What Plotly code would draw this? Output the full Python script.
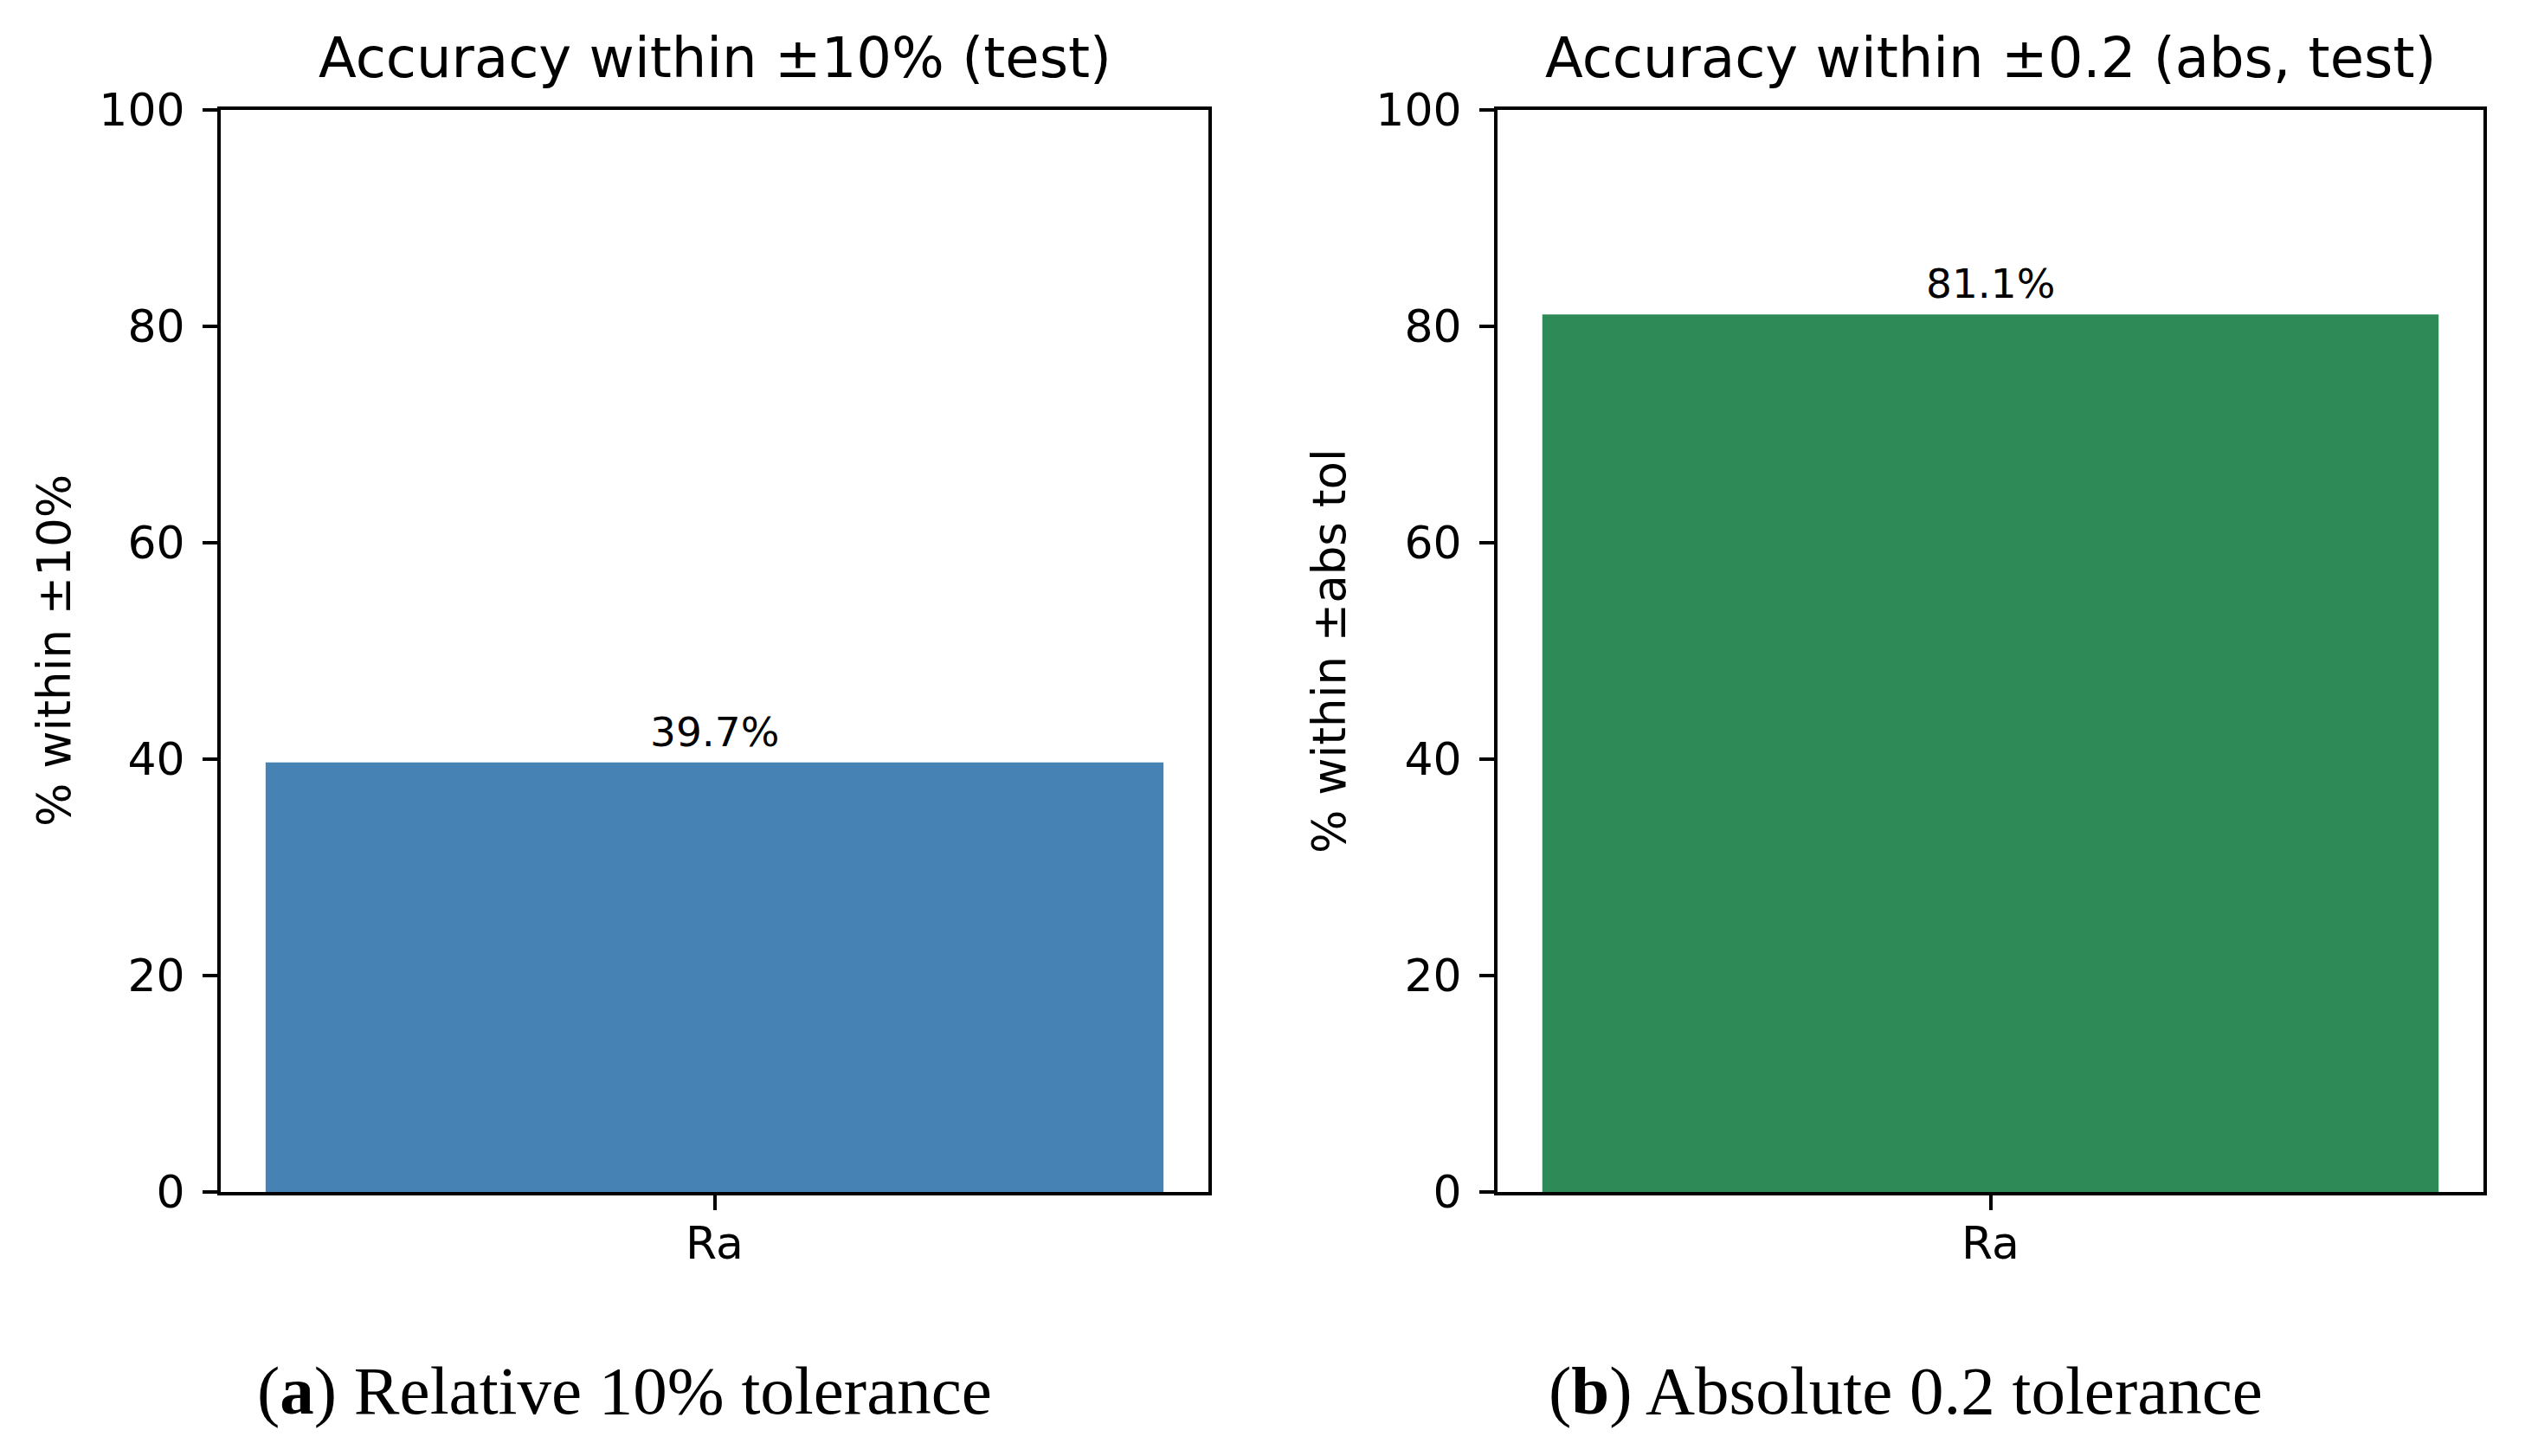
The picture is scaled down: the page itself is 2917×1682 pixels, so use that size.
import plotly.graph_objects as go

# ---- data ----
categories = ["Ra"]
rel_values = [39.7]
abs_values = [81.1]
titles = ["Accuracy within ±10% (test)", "Accuracy within ±0.2 (abs, test)"]
ylabels = ["% within ±10%", "% within ±abs tol"]
captions = ["(<b>a</b>) Relative 10% tolerance", "(<b>b</b>) Absolute 0.2 tolerance"]
y_ticks = [0, 20, 40, 60, 80, 100]
colors = ["#4682B4", "#2E8B57"]

W, H = 2917, 1682
FONT = "DejaVu Sans"
OFF = 8  # page body margin compensation


def px(x):
    return (x - OFF) / W


def py(y):
    return 1 - (y - OFF) / H


xdoms = [(px(255), px(1396)), (px(1730), px(2869))]
ydom = (py(1377), py(127))

fig = go.Figure()
series = [rel_values, abs_values]
for i, vals in enumerate(series):
    xa = "x" if i == 0 else "x2"
    ya = "y" if i == 0 else "y2"
    fig.add_trace(go.Bar(
        x=categories, y=vals, marker=dict(color=colors[i], line=dict(width=0)),
        width=0.8, xaxis=xa, yaxis=ya, showlegend=False,
    ))
    for c, v in zip(categories, vals):
        fig.add_annotation(x=c, y=v, xref=xa, yref=ya, text=f"{v:.1f}%",
                           showarrow=False, yanchor="bottom", yshift=6,
                           font=dict(family=FONT, size=47, color="black"))

axis_common = dict(showline=True, linecolor="black", linewidth=4, mirror=True,
                   ticks="outside", ticklen=17, tickwidth=4, tickcolor="black",
                   showgrid=False, zeroline=False, automargin=False,
                   tickfont=dict(family=FONT, size=52, color="black"))

layout = dict(width=W, height=H, margin=dict(l=0, r=0, t=0, b=0, autoexpand=False),
              paper_bgcolor="white", plot_bgcolor="white", bargap=0.2)
for i in range(2):
    sx = "" if i == 0 else "2"
    layout[f"xaxis{sx}"] = dict(domain=list(xdoms[i]), range=[-0.44, 0.44],
                                anchor=f"y{sx}", type="category",
                                ticklabelstandoff=-6, **axis_common)
    layout[f"yaxis{sx}"] = dict(domain=list(ydom), range=[0, 100], tickvals=y_ticks,
                                anchor=f"x{sx}", ticklabelstandoff=10, **axis_common)
fig.update_layout(**layout)

title_x = [(xdoms[0][0] + xdoms[0][1]) / 2, (xdoms[1][0] + xdoms[1][1]) / 2]
ylab_x = [px(62), px(1535)]
cap_x = [px(721), px(2201)]
for i in range(2):
    fig.add_annotation(x=title_x[i], y=py(67), xref="paper", yref="paper",
                       text=titles[i], showarrow=False, xanchor="center", yanchor="middle",
                       font=dict(family=FONT, size=64, color="black"))
    fig.add_annotation(x=ylab_x[i], y=(ydom[0] + ydom[1]) / 2, xref="paper", yref="paper",
                       text=ylabels[i], showarrow=False, textangle=-90,
                       xanchor="center", yanchor="middle",
                       font=dict(family=FONT, size=53, color="black"))
    fig.add_annotation(x=cap_x[i], y=py(1606), xref="paper", yref="paper",
                       text=captions[i], showarrow=False, xanchor="center", yanchor="middle",
                       font=dict(family="Liberation Serif", size=79, color="black"))

fig.write_html("out.html")
